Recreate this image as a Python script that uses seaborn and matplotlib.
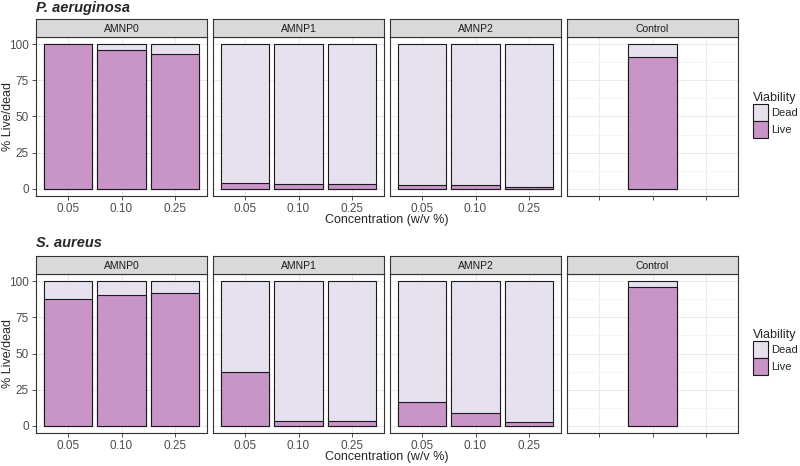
import seaborn as sns
import matplotlib.pyplot as plt
import matplotlib.patches as mpatches
import pandas as pd

concentrations = ["0.05", "0.10", "0.25"]
groups = ["AMNP0", "AMNP1", "AMNP2", "Control"]
organisms = ["P. aeruginosa", "S. aureus"]

# % live cells (dead = 100 - live)
pa_live_amnp0 = [100.0, 96.0, 93.5]
pa_live_amnp1 = [4.0, 3.0, 3.0]
pa_live_amnp2 = [2.5, 2.5, 1.5]
pa_live_control = [91.0]
sa_live_amnp0 = [88.0, 90.6, 91.8]
sa_live_amnp1 = [37.3, 3.0, 3.5]
sa_live_amnp2 = [16.7, 8.7, 2.5]
sa_live_control = [95.7]

live_color = "#C994C7"
dead_color = "#E7E1EF"


def build_df():
    rows = []
    series = {
        "P. aeruginosa": [pa_live_amnp0, pa_live_amnp1, pa_live_amnp2, pa_live_control],
        "S. aureus": [sa_live_amnp0, sa_live_amnp1, sa_live_amnp2, sa_live_control],
    }
    for org, vals in series.items():
        for grp, live in zip(groups, vals):
            concs = ["0.10"] if grp == "Control" else concentrations
            for c, v in zip(concs, live):
                rows.append({"organism": org, "group": grp, "conc": c,
                             "live": v, "dead": 100 - v, "total": 100.0})
    return pd.DataFrame(rows)


df = build_df()

sns.set_theme(style="white")
plt.rcParams["font.family"] = ["Liberation Sans", "DejaVu Sans"]

fig = plt.figure(figsize=(8, 4.66), dpi=100)
W, H = 800, 466
lefts = [36, 213, 390, 567]
pw = 171
ph = 159
strip_h = 18
row_tops = [37, 274]
title_y = [8, 243]

for r, org in enumerate(organisms):
    top = row_tops[r]
    for i, grp in enumerate(groups):
        ax = fig.add_axes([lefts[i] / W, 1 - (top + ph) / H, pw / W, ph / H])
        sub = df[(df.organism == org) & (df.group == grp)]
        sns.barplot(data=sub, x="conc", y="total", order=concentrations, color=dead_color,
                    saturation=1, width=0.9, edgecolor="#1a1a1a", linewidth=0.8,
                    errorbar=None, ax=ax)
        sns.barplot(data=sub, x="conc", y="live", order=concentrations, color=live_color,
                    saturation=1, width=0.9, edgecolor="#1a1a1a", linewidth=0.8,
                    errorbar=None, ax=ax)
        ax.set_xlim(-0.6, 2.6)
        ax.set_ylim(-5, 105)
        ax.set_yticks([0, 25, 50, 75, 100])
        ax.set_yticks([12.5, 37.5, 62.5, 87.5], minor=True)
        ax.set_axisbelow(True)
        ax.grid(True, which="major", color="#E6E6E6", linewidth=0.6)
        ax.grid(True, which="minor", axis="y", color="#F0F0F0", linewidth=0.4)
        ax.set_xlabel("")
        ax.set_ylabel("")
        for s in ax.spines.values():
            s.set_color("#333333")
            s.set_linewidth(0.8)
        ax.tick_params(axis="both", which="major", length=3, width=0.6, color="#333333",
                       labelsize=8.5, labelcolor="#4D4D4D", pad=2, bottom=True, left=True)
        ax.tick_params(which="minor", length=0)
        if grp == "Control":
            ax.set_xticklabels([])
        if i > 0:
            ax.tick_params(axis="y", left=False, labelleft=False)

        sax = fig.add_axes([lefts[i] / W, 1 - top / H, pw / W, strip_h / H])
        sax.set_facecolor("#D9D9D9")
        sax.set_xticks([])
        sax.set_yticks([])
        for s in sax.spines.values():
            s.set_color("#333333")
            s.set_linewidth(0.8)
        sax.text(0.5, 0.45, grp, ha="center", va="center", fontsize=7.5,
                 color="#1A1A1A", transform=sax.transAxes)

    fig.text(36 / W, 1 - title_y[r] / H, org, fontsize=10.5, fontweight="bold",
             fontstyle="italic", ha="left", va="center")
    fig.text(8 / W, 1 - (top + ph / 2) / H, "% Live/dead", fontsize=9, rotation=90,
             ha="center", va="center")
    fig.text((36 + 738) / 2 / W, 1 - (top + ph + 24) / H, "Concentration (w/v %)",
             fontsize=9, ha="center", va="center")

    handles = [mpatches.Patch(facecolor=dead_color, edgecolor="#1a1a1a", linewidth=0.8, label="Dead"),
               mpatches.Patch(facecolor=live_color, edgecolor="#1a1a1a", linewidth=0.8, label="Live")]
    leg = fig.legend(handles=handles, title="Viability", loc="upper left",
                     bbox_to_anchor=(752 / W, 1 - (top + 54) / H), frameon=False,
                     fontsize=8, title_fontsize=9, handlelength=1.35, handleheight=2.0,
                     handletextpad=0.25, labelspacing=0.0, borderpad=0.1, borderaxespad=0)
    leg._legend_box.align = "left"

fig.savefig("out.png", dpi=100)
